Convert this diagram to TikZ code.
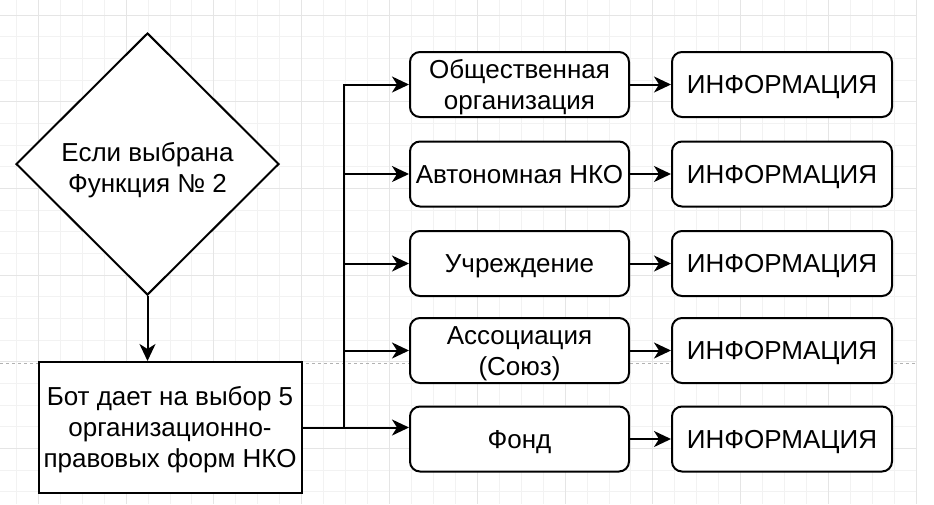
\documentclass[tikz,border=0pt]{standalone}
\usepackage{fontspec}
\setmainfont{Liberation Sans}
\usetikzlibrary{shapes.geometric,arrows.meta}

\begin{document}
\begin{tikzpicture}[x=1pt,y=-1pt,
    every node/.style={font=\fontsize{26}{31}\selectfont, align=center, inner sep=0pt, text height=22pt, text depth=4pt},
    twolines/.style={text height=53pt},
    threelines/.style={text height=84pt},
    box/.style={draw, fill=white, line width=2pt, rounded corners=10pt, minimum width=219pt, minimum height=65pt},
    info/.style={box, minimum width=220pt},
    arr/.style={line width=2pt, -{Stealth[length=17pt,width=16pt,inset=5pt]}},
    gridminor/.style={line width=1pt, black!5},
    gridmajor/.style={line width=1pt, black!10}]
  \useasboundingbox (0,0) rectangle (934,504);

  % background grid
  \foreach \i in {-1,...,40}
    \draw[gridminor] ({38.3+21.95*\i},0) -- ({38.3+21.95*\i},504);
  \foreach \j in {0,...,22}
    \draw[gridminor] (0,{15+21.67*\j}) -- (916,{15+21.67*\j});
  \foreach \i in {0,4,...,40}
    \draw[gridmajor] ({38.3+21.95*\i},0) -- ({38.3+21.95*\i},504);
  \foreach \j in {0,4,...,20}
    \draw[gridmajor] (0,{15+21.67*\j}) -- (916,{15+21.67*\j});
  \draw[black!30, line width=1pt, dash pattern=on 3pt off 3pt] (0,363) -- (916,363);

  \node[diamond, draw, fill=white, line width=2pt, minimum width=263pt, minimum height=262pt,
    text height=60pt] (cond) at (147.5,164) {Если выбрана\\Функция № 2};
  \node[draw, fill=white, line width=2pt, minimum width=263pt, minimum height=131pt, threelines] (bot) at (170,427.5) {Бот дает на выбор 5\\организационно-\\правовых форм НКО};

  \node[box, twolines] (f1) at (519.5,84.5) {Общественная\\организация};
  \node[box] (f2) at (519.5,174) {Автономная НКО};
  \node[box] (f3) at (519.5,263.5) {Учреждение};
  \node[box, twolines] (f4) at (519.5,350.5) {Ассоциация\\(Союз)};
  \node[box] (f5) at (519.5,439) {Фонд};

  \node[info] (i1) at (782,84.5) {ИНФОРМАЦИЯ};
  \node[info] (i2) at (782,174) {ИНФОРМАЦИЯ};
  \node[info] (i3) at (782,263.5) {ИНФОРМАЦИЯ};
  \node[info] (i4) at (782,350.5) {ИНФОРМАЦИЯ};
  \node[info] (i5) at (782,439) {ИНФОРМАЦИЯ};

  \coordinate (j) at (344,427.5);

  \draw[arr] (cond.south) -- (cond.south |- bot.north);
  \draw[line width=2pt] (bot.east) -- (j);
  \draw[arr] (j) |- (f1);
  \draw[arr] (j) |- (f2);
  \draw[arr] (j) |- (f3);
  \draw[arr] (j) |- (f4);
  \draw[arr] (j) -- (j -| f5.west);

  \draw[arr] (f1) -- (i1);
  \draw[arr] (f2) -- (i2);
  \draw[arr] (f3) -- (i3);
  \draw[arr] (f4) -- (i4);
  \draw[arr] (f5) -- (i5);
\end{tikzpicture}
\end{document}
